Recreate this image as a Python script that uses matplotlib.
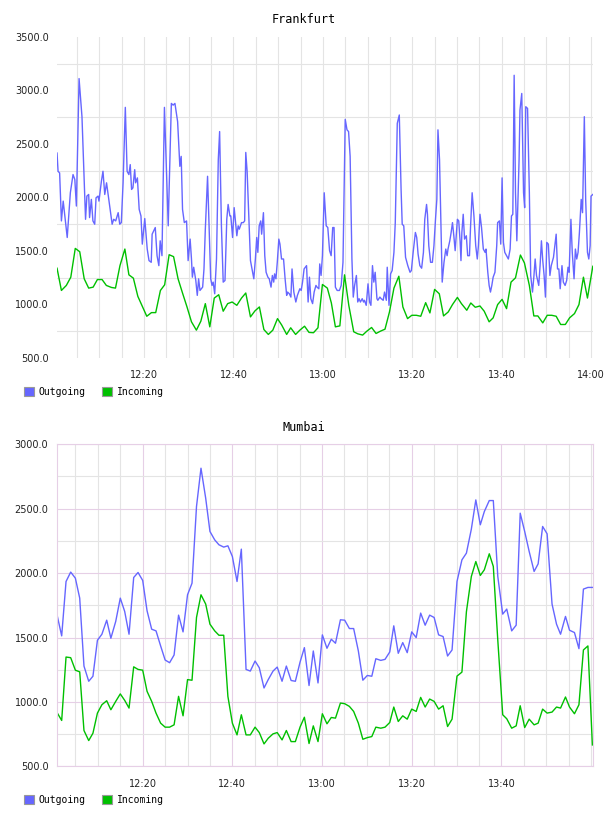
import matplotlib
matplotlib.use("Agg")
import matplotlib.pyplot as plt
from matplotlib.patches import Patch
from matplotlib.ticker import FixedLocator, FuncFormatter

# minutes after 12:00, traffic values
fra_out_t = [0.52, 0.75, 1.1, 1.5, 1.9, 2.8, 3.5, 4.1, 4.5, 4.85, 5.45, 6.1, 6.9, 7.2, 7.6, 7.8, 8.2,
             8.55, 8.95, 9.25, 9.7, 9.9, 10.45, 10.8, 11.2, 11.6, 12.1, 12.85, 13.2, 13.65, 14.2, 14.55,
             14.9, 15.3, 15.8, 16.2, 16.6, 16.9, 17.2, 17.5, 17.9, 18.1, 18.5, 18.9, 19.3, 19.6, 20.15,
             20.7, 21.1, 21.6, 21.8, 22.5, 22.9, 23.3, 23.6, 24.0, 24.55, 25.4, 25.6, 26.1, 26.5, 26.9,
             27.5, 28.0, 28.3, 28.6, 29.0, 29.5, 29.85, 30.3, 30.6, 30.8, 31.1, 31.57, 31.9, 32.2, 32.5,
             33.1, 33.4, 33.7, 34.2, 34.55, 34.9, 35.2, 35.45, 35.8, 36.2, 36.6, 36.9, 37.3, 37.7, 38.1,
             38.5, 38.8, 39.2, 39.4, 39.8, 40.15, 40.4, 40.75, 41.05, 41.3, 41.8, 42.2, 42.5, 42.75,
             43.05, 43.5, 43.8, 44.2, 44.55, 44.9, 45.2, 45.45, 45.75, 46.1, 46.3, 46.7, 47.0, 47.3,
             47.7, 48.0, 48.4, 48.7, 49.0, 49.2, 49.5, 49.8, 50.15, 50.4, 50.75, 51.2, 51.55, 51.9,
             52.1, 52.5, 52.85, 53.1, 53.5, 53.95, 54.3, 54.85, 55.15, 55.45, 55.8, 56.35, 56.7, 57.0,
             57.3, 57.7, 58.05, 58.45, 58.7, 59.1, 59.3, 59.6, 59.9, 60.3, 60.75, 61.1, 61.5, 61.85,
             62.2, 62.5, 62.8, 63.2, 63.7, 64.1, 64.5, 65.0, 65.4, 65.75, 66.1, 66.5, 66.8, 67.1, 67.5,
             67.8, 68.1, 68.4, 68.8, 69.1, 69.3, 69.7, 70.1, 70.45, 70.75, 71.1, 71.4, 71.7, 72.1,
             72.3, 72.75, 73.05, 73.5, 73.8, 74.2, 74.4, 74.8, 75.15, 75.5, 75.9, 76.2, 76.65, 77.1,
             77.5, 77.75, 78.1, 78.5, 79.0, 79.5, 79.8, 80.2, 80.7, 81.0, 81.3, 81.7, 82.1, 82.5, 82.8,
             83.2, 83.4, 83.7, 84.1, 84.5, 84.85, 85.2, 85.5, 85.75, 86.1, 86.7, 87.1, 87.5, 87.8,
             88.0, 88.4, 88.7, 89.0, 89.3, 89.6, 90.1, 90.4, 90.7, 90.9, 91.1, 91.4, 91.7, 92.1, 92.4,
             92.8, 93.05, 93.4, 93.8, 94.2, 94.55, 94.8, 95.15, 95.5, 95.9, 96.3, 96.5, 96.9, 97.2,
             97.5, 97.8, 98.1, 98.5, 98.9, 99.1, 99.5, 99.8, 100.1, 100.4, 100.7, 101.1, 101.5, 101.9,
             102.2, 102.5, 102.8, 103.1, 103.4, 103.9, 104.1, 104.5, 104.9, 105.15, 105.4, 105.8,
             106.2, 106.5, 106.9, 107.2, 107.5, 107.8, 108.3, 108.6, 108.9, 109.2, 109.5, 109.8,
             110.1, 110.45, 110.8, 111.1, 111.6, 112.2, 112.5, 112.8, 113.1, 113.5, 113.8, 114.2,
             114.55, 114.85, 115.1, 115.5, 115.8, 116.2, 116.5, 116.8, 117.1, 117.4, 117.8, 118.1,
             118.5, 118.8, 119.2, 119.5, 119.8, 120.0, 120.4]
fra_out = [2415, 2245, 2229, 1781, 1966, 1626, 2044, 2214, 2168, 1920, 3111, 2755, 1796, 2013, 2028,
           1812, 1982, 1781, 1750, 1997, 2013, 1966, 2152, 2245, 2028, 2137, 1982, 1750, 1796, 1781,
           1858, 1750, 1765, 2137, 2842, 2245, 2214, 2307, 2075, 2090, 2260, 2137, 2183, 1889, 1827,
           1564, 1803, 1518, 1410, 1394, 1657, 1719, 1456, 1363, 1595, 1456, 2842, 1735, 2075, 2879,
           2863, 2879, 2709, 2291, 2384, 1889, 1765, 1781, 1410, 1611, 1425, 1255, 1348, 1224, 1085,
           1240, 1131, 1162, 1332, 1704, 2198, 1735, 1240, 1178, 1209, 1100, 1425, 2353, 2616, 1735,
           1209, 1224, 1796, 1935, 1827, 1827, 1626, 1905, 1796, 1642, 1735, 1704, 1765, 1765, 1781,
           2421, 2245, 1735, 1410, 1317, 1240, 1425, 1626, 1487, 1735, 1781, 1657, 1858, 1456, 1301,
           1255, 1240, 1162, 1271, 1209, 1286, 1240, 1394, 1611, 1564, 1425, 1425, 1240, 1085, 1116,
           1100, 1069, 1332, 1116, 1023, 1085, 1147, 1131, 1209, 1332, 1363, 1023, 1255, 1054, 1008,
           1116, 1178, 1162, 1147, 1379, 1271, 1456, 2044, 1735, 1719, 1503, 1456, 1719, 1719, 1162,
           1131, 1131, 1178, 1394, 2730, 2632, 2616, 2384, 1425, 1069, 1178, 1271, 1023, 1054, 1023,
           1054, 1023, 1039, 992, 1193, 1023, 992, 1363, 1209, 1301, 1054, 1039, 1069, 1054, 1039,
           1116, 1039, 1348, 992, 1286, 1317, 1487, 1765, 2693, 2771, 2075, 1750, 1735, 1441, 1363,
           1301, 1317, 1487, 1673, 1626, 1472, 1363, 1339, 1487, 1796, 1935, 1843, 1549, 1394, 1394,
           1549, 1796, 1982, 2632, 2353, 1209, 1394, 1518, 1456, 1518, 1595, 1673, 1765, 1642, 1503,
           1796, 1781, 1595, 1410, 1673, 1843, 1611, 1642, 1456, 1456, 1735, 2044, 1827, 1549, 1425,
           1549, 1843, 1719, 1518, 1487, 1518, 1301, 1178, 1116, 1178, 1255, 1301, 1549, 1765, 1781,
           1564, 2183, 1580, 1487, 1456, 1425, 1518, 1827, 1843, 3142, 2044, 1595, 2353, 2817, 2972,
           2044, 1905, 2848, 2832, 2044, 1271, 1116, 1255, 1425, 1271, 1178, 1363, 1595, 1410, 1271,
           1069, 1580, 1564, 1271, 1363, 1441, 1657, 1332, 1332, 1147, 1363, 1209, 1178, 1224, 1348,
           1301, 1796, 1487, 1240, 1518, 1425, 1487, 1673, 1982, 1858, 2755, 1982, 1487, 1425, 1549,
           2013, 2028]

fra_in_t = [0.52, 1.5, 2.6, 3.6, 4.6, 5.6, 6.6, 7.6, 8.6, 9.55, 10.6, 11.55, 12.7, 13.6, 14.6, 15.7,
            16.6, 17.6, 18.6, 19.6, 20.6, 21.65, 22.6, 23.65, 24.6, 25.6, 26.6, 27.6, 28.65, 29.6,
            30.6, 31.7, 32.7, 33.7, 34.7, 35.7, 36.7, 37.7, 38.7, 39.7, 40.75, 41.8, 42.75, 43.8,
            44.8, 45.8, 46.8, 47.8, 48.8, 49.85, 50.8, 51.9, 52.8, 53.9, 54.85, 55.9, 56.9, 57.9,
            58.9, 59.9, 61.0, 61.9, 62.8, 63.8, 64.85, 65.8, 66.9, 67.8, 68.9, 69.85, 70.9, 71.9,
            72.9, 73.9, 74.9, 75.9, 77.0, 77.9, 78.95, 79.9, 80.9, 81.9, 83.0, 83.95, 85.0, 86.05,
            87.0, 88.05, 89.0, 90.1, 91.0, 92.2, 93.1, 94.1, 95.15, 96.1, 97.2, 98.1, 99.1, 100.1,
            101.1, 102.1, 103.1, 104.2, 105.1, 106.2, 107.2, 108.1, 109.2, 110.2, 111.2, 112.2,
            113.2, 114.25, 115.2, 116.3, 117.3, 118.3, 119.2, 120.4]
fra_in = [1339, 1131, 1178, 1255, 1524, 1493, 1240, 1153, 1162, 1233, 1233, 1178, 1159, 1153, 1363,
          1518, 1277, 1246, 1076, 983, 890, 924, 924, 1131, 1184, 1465, 1447, 1240, 1100, 977, 838,
          760, 844, 1008, 791, 1060, 1091, 937, 1008, 1023, 992, 1060, 1107, 884, 940, 977, 766, 720,
          760, 868, 807, 720, 782, 720, 760, 797, 739, 736, 782, 1187, 1153, 1014, 791, 800, 1277,
          992, 745, 726, 714, 751, 785, 729, 751, 769, 930, 1153, 1264, 977, 868, 899, 899, 890, 1017,
          921, 1141, 1100, 893, 930, 999, 1066, 1008, 946, 1014, 974, 986, 937, 838, 875, 999, 1048,
          961, 1209, 1249, 1462, 1388, 1178, 893, 893, 828, 899, 899, 890, 813, 813, 875, 915, 999,
          1255, 1060, 1357]

mum_t = [0.97, 1.93, 2.9, 3.94, 4.98, 5.95, 6.9, 7.96, 8.9, 9.9, 10.9, 11.97, 12.9, 13.98, 15.0,
         15.98, 16.95, 17.99, 18.96, 20.0, 20.97, 22.0, 22.97, 24.0, 25.0, 26.0, 27.0, 28.0, 29.0,
         30.0, 31.0, 32.0, 33.0, 34.05, 35.0, 36.06, 37.0, 38.07, 39.0, 40.0, 41.04, 42.0, 43.05,
         44.0, 45.06, 46.0, 47.06, 48.0, 49.07, 50.0, 51.08, 52.04, 53.1, 54.05, 55.1, 56.06, 57.1,
         58.05, 59.1, 60.07, 61.1, 62.06, 63.0, 64.1, 65.05, 66.1, 67.05, 68.1, 69.1, 70.1, 71.1,
         72.0, 73.1, 74.05, 75.1, 76.0, 77.0, 78.0, 79.0, 80.0, 81.0, 82.0, 83.0, 84.0, 85.0, 86.0,
         87.0, 88.0, 89.0, 90.1, 91.2, 92.2, 93.3, 94.3, 95.3, 96.2, 97.3, 98.2, 99.2, 100.3, 101.2,
         102.3, 103.3, 104.2, 105.2, 106.2, 107.3, 108.2, 109.2, 110.2, 111.3, 112.3, 113.2, 114.3,
         115.2, 116.3, 117.3, 118.3, 119.3, 120.3]
mum_out = [1664, 1513, 1935, 2008, 1961, 1806, 1279, 1161, 1200, 1479, 1526, 1635, 1495, 1625, 1806,
           1703, 1526, 1966, 2005, 1943, 1708, 1565, 1552, 1435, 1326, 1305, 1365, 1674, 1544, 1832,
           1922, 2517, 2814, 2581, 2323, 2258, 2220, 2202, 2212, 2129, 1935, 2186, 1253, 1240, 1318,
           1266, 1109, 1174, 1240, 1271, 1161, 1279, 1167, 1161, 1310, 1422, 1128, 1396, 1148, 1521,
           1417, 1487, 1456, 1638, 1635, 1570, 1570, 1396, 1169, 1206, 1200, 1336, 1323, 1331, 1388,
           1591, 1378, 1461, 1383, 1544, 1500, 1690, 1596, 1674, 1656, 1521, 1508, 1357, 1404, 1935,
           2103, 2155, 2341, 2568, 2375, 2478, 2563, 2563, 1974, 1682, 1721, 1552, 1596, 2465, 2323,
           2168, 2013, 2072, 2362, 2305, 1760, 1604, 1526, 1664, 1557, 1539, 1414, 1876, 1889, 1889]
mum_in = [914, 857, 1349, 1344, 1247, 1234, 779, 701, 758, 914, 979, 1010, 940, 1005, 1063, 1013,
          953, 1273, 1253, 1247, 1083, 1005, 914, 836, 805, 805, 823, 1044, 893, 1174, 1169, 1656,
          1832, 1760, 1604, 1552, 1518, 1518, 1044, 836, 745, 901, 745, 745, 805, 763, 675, 719, 753,
          763, 706, 779, 693, 693, 806, 882, 678, 815, 693, 909, 831, 880, 875, 992, 987, 966, 927,
          836, 711, 724, 732, 805, 797, 805, 841, 961, 849, 893, 867, 945, 927, 1036, 961, 1023, 1005,
          945, 971, 810, 867, 1201, 1232, 1700, 1974, 2090, 1982, 2026, 2150, 2052, 1480, 901, 870,
          797, 815, 971, 802, 867, 823, 836, 945, 914, 922, 961, 953, 1039, 961, 909, 979, 1404, 1435,
          667]

OUT_COLOR = '#6666ff'
IN_COLOR = '#00c000'
GRID = '#e4e4e4'
PURPLE = '#e6cfe6'


def hhmm(m, pos=None):
    m = int(round(m))
    return '%d:%02d' % (12 + m // 60, m % 60)


fig = plt.figure(figsize=(6.08, 8.16), dpi=100)
ax1 = fig.add_axes([0.0938, 0.5613, 0.8816, 0.3934])
ax2 = fig.add_axes([0.0932, 0.0607, 0.8826, 0.3949])


def style(ax, xlim, ylim, xt, major_color, minor_color, border):
    ax.set_xlim(*xlim)
    ax.set_ylim(*ylim)
    ax.xaxis.set_major_locator(FixedLocator(xt))
    ax.xaxis.set_major_formatter(FuncFormatter(hhmm))
    ax.xaxis.set_minor_locator(FixedLocator(list(range(5, 121, 5))))
    ax.yaxis.set_major_locator(FixedLocator(list(range(ylim[0], ylim[1] + 1, 500))))
    ax.yaxis.set_major_formatter(FuncFormatter(lambda v, p: '%.1f' % v))
    ax.yaxis.set_minor_locator(FixedLocator(list(range(ylim[0] + 250, ylim[1], 500))))
    ax.tick_params(which='both', length=0, labelsize=7, colors='#222222')
    ax.tick_params(axis='x', pad=9)
    ax.tick_params(axis='y', pad=6)
    ax.grid(which='minor', color=minor_color, lw=0.8)
    if major_color:
        ax.grid(which='major', color=major_color, lw=0.8)
    else:
        # top chart: gray lines at every 5 minutes, none at the labelled values
        ax.grid(which='major', axis='x', color=minor_color, lw=0.8)
    for s in ax.spines.values():
        s.set_visible(border is not None)
        if border:
            s.set_color(border)
            s.set_linewidth(0.8)
    ax.set_axisbelow(True)


style(ax1, (0.52, 120.45), (500, 3500), [20, 40, 60, 80, 100, 120], None, GRID, None)
style(ax2, (0.81, 120.5), (500, 3000), [20, 40, 60, 80, 100], PURPLE, GRID, PURPLE)

ax1.plot(fra_out_t, fra_out, color=OUT_COLOR, lw=1.0)
ax1.plot(fra_in_t, fra_in, color=IN_COLOR, lw=1.0)
ax2.plot(mum_t, mum_out, color=OUT_COLOR, lw=1.0)
ax2.plot(mum_t, mum_in, color=IN_COLOR, lw=1.0)

fig.text(0.5, 0.9755, 'Frankfurt', ha='center', va='center', family='DejaVu Sans Mono', fontsize=8.5)
fig.text(0.5, 0.4755, 'Mumbai', ha='center', va='center', family='DejaVu Sans Mono', fontsize=8.5)

handles = [Patch(facecolor=OUT_COLOR, edgecolor='#999999', lw=0.8, label='Outgoing'),
           Patch(facecolor=IN_COLOR, edgecolor='#999999', lw=0.8, label='Incoming')]
for ax, y in ((ax1, 1 - 392 / 816), (ax2, 1 - 800 / 816)):
    ax.legend(handles=handles, loc='center left', bbox_to_anchor=(0.0395, y),
              bbox_transform=fig.transFigure, ncol=2, frameon=False,
              prop={'family': 'DejaVu Sans Mono', 'size': 7},
              handlelength=1.05, handleheight=1.05, handletextpad=0.45,
              columnspacing=1.7, borderpad=0, borderaxespad=0)

fig.savefig('out.png', dpi=100, facecolor='white')
